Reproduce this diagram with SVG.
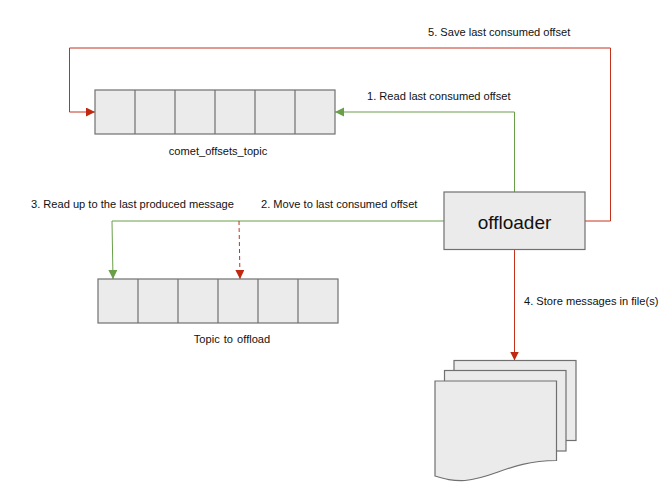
<svg xmlns="http://www.w3.org/2000/svg" width="669" height="504" viewBox="0 0 669 504">
<style>
text{font-family:"Liberation Sans",Arial,sans-serif;font-size:11.1px;fill:#111}
.s{fill:#ebebeb;stroke:#707070;stroke-width:1.2}
.d{fill:none;stroke:#707070;stroke-width:1.2}
.g{fill:none;stroke:#6a9f4a;stroke-width:1}
.r{fill:none;stroke:#c4321e;stroke-width:1}
</style>
<defs>
<marker id="ar" markerUnits="userSpaceOnUse" markerWidth="10" markerHeight="10" refX="9" refY="4.5" orient="auto"><path d="M0 0L9 4.5L0 9Z" fill="#c0280f"/></marker>
<marker id="ag" markerUnits="userSpaceOnUse" markerWidth="10" markerHeight="10" refX="9" refY="4.5" orient="auto"><path d="M0 0L9 4.5L0 9Z" fill="#6a9f4a"/></marker>
</defs>
<g id="connectors">
<path class="r" d="M585 221H610.500V48H69.500V112H95" marker-end="url(#ar)"/>
<path class="g" d="M514.500 192V112H335" marker-end="url(#ag)"/>
<path class="g" d="M444 221H112L113 279" marker-end="url(#ag)"/>
<path class="r" d="M239 221L240 279" stroke-dasharray="4 3" marker-end="url(#ar)"/>
<path class="r" d="M514.500 249.500V360.500" marker-end="url(#ar)"/>
</g>
<g id="comet_offsets_topic">
<rect class="s" x="95" y="90" width="240" height="44"/>
<path class="d" d="M135 90V134M175 90V134M215 90V134M255 90V134M295 90V134"/>
<text x="218" y="155" text-anchor="middle">comet_offsets_topic</text>
</g>
<g id="topic_to_offload">
<rect class="s" x="98" y="279" width="240" height="44"/>
<path class="d" d="M138 279V323M178 279V323M218 279V323M258 279V323M298 279V323"/>
<text x="232" y="343" text-anchor="middle" word-spacing="1">Topic to offload</text>
</g>
<g id="offloader">
<rect class="s" x="444" y="192" width="141" height="57.500"/>
<text x="514.500" y="229" text-anchor="middle" style="font-size:19px">offloader</text>
</g>
<g id="files">
<rect class="s" x="454" y="360.500" width="122" height="80"/>
<rect class="s" x="444.500" y="370.500" width="121.500" height="80.500"/>
<path class="s" d="M435 381H556.500V460.500C510 461 495 478 465 480.500C452 481 445 479 435 476Z"/>
</g>
<g id="labels">
<text x="367" y="100">1. Read last consumed offset</text>
<text x="261" y="208">2. Move to last consumed offset</text>
<text x="31" y="208">3. Read up to the last produced message</text>
<text x="524" y="305">4. Store messages in file(s)</text>
<text x="428" y="36">5. Save last consumed offset</text>
</g>
</svg>
